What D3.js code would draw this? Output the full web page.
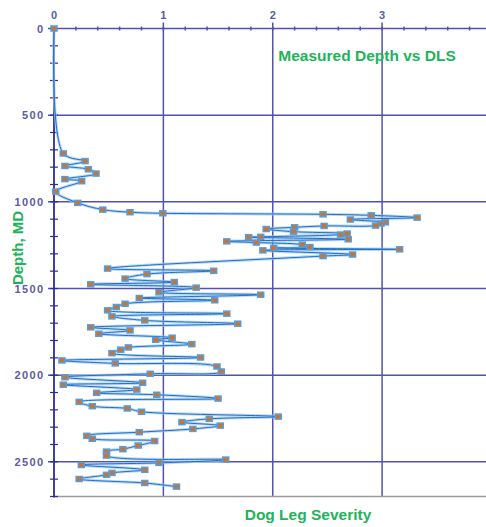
<!DOCTYPE html>
<html>
<head>
<meta charset="utf-8">
<script src="https://cdnjs.cloudflare.com/ajax/libs/d3/7.8.5/d3.min.js"></script>
<style>
  body { margin: 0; background: #fff; }
  svg { display: block; }
  .tick-label { font-family: "Liberation Sans", Arial, sans-serif; font-size: 11px; font-weight: bold; fill: #5b5ba6; letter-spacing: 1.4px; }
  .chart-text { font-family: "Liberation Sans", Arial, sans-serif; font-weight: bold; fill: #22b35a; }
</style>
</head>
<body>
<svg id="chart" width="486" height="527"></svg>
<script>
// measured depth (ft) and dog leg severity
var mdDepth = [0, 721, 765, 793, 812, 837, 869, 881, 941, 1006, 1045, 1060, 1066,
  1072, 1078, 1091, 1102, 1118, 1125, 1137, 1139, 1147, 1157, 1172, 1183, 1189,
  1202, 1204, 1216, 1228, 1235, 1247, 1261, 1266, 1274, 1280, 1304, 1313,
  1385, 1398, 1417, 1443, 1463, 1476, 1495, 1522, 1536, 1555, 1568, 1588, 1607,
  1626, 1645, 1661, 1684, 1703, 1724, 1742, 1761, 1784, 1796, 1821, 1840, 1853,
  1873, 1898, 1915, 1932, 1950, 1979, 1992, 2012, 2044, 2055, 2083, 2102, 2113,
  2135, 2154, 2179, 2192, 2211, 2239, 2252, 2271, 2291, 2310, 2329, 2350, 2367,
  2380, 2406, 2427, 2441, 2464, 2487, 2506, 2518, 2546, 2564, 2575, 2599, 2622, 2643];
var dlsValues = [0, 0.085, 0.284, 0.10, 0.314, 0.384, 0.10, 0.253, 0.016, 0.217, 0.446, 0.695, 0.995,
  2.46, 2.90, 3.32, 2.71, 3.03, 2.99, 2.94, 2.47, 2.20, 1.94, 2.19, 2.68, 2.62,
  1.89, 1.78, 2.69, 1.58, 1.85, 2.27, 2.34, 2.01, 3.16, 1.91, 2.73, 2.46,
  0.49, 1.46, 0.85, 0.65, 1.10, 0.336, 1.30, 0.96, 1.89, 0.78, 1.47, 0.65, 0.57,
  0.49, 1.58, 0.53, 0.83, 1.68, 0.336, 0.695, 0.41, 1.08, 0.93, 1.26, 0.68, 0.61,
  0.53, 1.34, 0.073, 0.56, 1.49, 1.53, 0.88, 0.10, 0.81, 0.085, 0.757, 0.39, 0.94,
  1.50, 0.23, 0.35, 0.67, 0.80, 2.05, 1.42, 1.17, 1.52, 1.27, 0.78, 0.30, 0.35,
  0.92, 0.77, 0.63, 0.48, 0.48, 1.57, 0.96, 0.25, 0.83, 0.53, 0.48, 0.23, 0.83, 1.12];

var xTicks = [0, 1, 2, 3];
var xMinorTicks = d3.range(0, 3.95, 0.2);
var yTicks = [0, 500, 1000, 1500, 2000, 2500];
var yMinorTicks = d3.range(0, 2701, 100);

var chartTitle = "Measured Depth vs DLS";
var xTitle = "Dog Leg Severity";
var yTitle = "Depth, MD";

var plotLeft = 54, plotTop = 28.5, plotRight = 486, plotBottom = 496.5;

var x = d3.scaleLinear().domain([0, 3.95]).range([plotLeft, plotRight]);
var y = d3.scaleLinear().domain([0, 2700]).range([plotTop, plotBottom]);

var svg = d3.select("#chart");

var data = mdDepth.map(function(d, i) { return {md: d, dls: dlsValues[i]}; });

// gridlines
svg.selectAll(".vgrid")
  .data(xTicks.filter(function(d) { return d > 0; }))
  .enter().append("line")
  .attr("x1", function(d) { return x(d); })
  .attr("x2", function(d) { return x(d); })
  .attr("y1", plotTop - 6)
  .attr("y2", plotBottom)
  .style("stroke", "#5252ad")
  .style("stroke-width", 1.5);

svg.selectAll(".hgrid")
  .data(yTicks)
  .enter().append("line")
  .attr("x1", plotLeft - 6)
  .attr("x2", plotRight)
  .attr("y1", function(d) { return y(d); })
  .attr("y2", function(d) { return y(d); })
  .style("stroke", "#5252ad")
  .style("stroke-width", 1.5);

// bottom frame
svg.append("line")
  .attr("x1", plotLeft).attr("x2", plotRight)
  .attr("y1", plotBottom).attr("y2", plotBottom)
  .style("stroke", "#9a9a9a")
  .style("stroke-width", 1.5);

// minor ticks
svg.selectAll(".xminor")
  .data(xMinorTicks)
  .enter().append("line")
  .attr("x1", function(d) { return x(d); })
  .attr("x2", function(d) { return x(d); })
  .attr("y1", plotTop - 2)
  .attr("y2", plotTop + 2)
  .style("stroke", "#5252ad")
  .style("stroke-width", 1.5);

svg.selectAll(".yminor")
  .data(yMinorTicks)
  .enter().append("line")
  .attr("x1", plotLeft - 4)
  .attr("x2", plotLeft + 4)
  .attr("y1", function(d) { return y(d); })
  .attr("y2", function(d) { return y(d); })
  .style("stroke", "#2d2d8f")
  .style("stroke-width", 1.2);

// left axis line
svg.append("line")
  .attr("x1", plotLeft).attr("x2", plotLeft)
  .attr("y1", plotTop).attr("y2", plotBottom + 1)
  .style("stroke", "#2d2d8f")
  .style("stroke-width", 1.8);

// tick labels
svg.selectAll(".xlab")
  .data(xTicks)
  .enter().append("text")
  .attr("class", "tick-label")
  .attr("x", function(d) { return x(d) + 0.7; })
  .attr("y", 19)
  .attr("text-anchor", "middle")
  .text(function(d) { return d; });

svg.selectAll(".ylab")
  .data(yTicks)
  .enter().append("text")
  .attr("class", "tick-label")
  .attr("x", 44.5)
  .attr("y", function(d) { return y(d) + 4; })
  .attr("text-anchor", "end")
  .text(function(d) { return d; });

// the series line, with a soft glow underneath
var line = d3.line()
  .x(function(d) { return x(d.dls); })
  .y(function(d) { return y(d.md); })
  .curve(d3.curveCatmullRom.alpha(0.5));

svg.append("path")
  .datum(data)
  .attr("d", line)
  .style("fill", "none")
  .style("stroke", "#9cc8ee")
  .style("stroke-width", 3)
  .style("stroke-opacity", 0.7);

svg.append("path")
  .datum(data)
  .attr("d", line)
  .style("fill", "none")
  .style("stroke", "#1f6fc4")
  .style("stroke-width", 1);

// markers
svg.selectAll(".pt")
  .data(data)
  .enter().append("rect")
  .attr("x", function(d) { return x(d.dls) - 3; })
  .attr("y", function(d) { return y(d.md) - 2.5; })
  .attr("width", 6)
  .attr("height", 5)
  .style("fill", "#c9742f")
  .style("stroke", "#5a9bd8")
  .style("stroke-width", 1.5);

// titles
svg.append("text")
  .attr("class", "chart-text")
  .attr("x", 367)
  .attr("y", 61)
  .attr("text-anchor", "middle")
  .style("font-size", "15.5px")
  .text(chartTitle);

svg.append("text")
  .attr("class", "chart-text")
  .attr("x", 308)
  .attr("y", 520)
  .attr("text-anchor", "middle")
  .style("font-size", "15.5px")
  .text(xTitle);

svg.append("text")
  .attr("class", "chart-text")
  .attr("transform", "translate(23,248) rotate(-90)")
  .attr("text-anchor", "middle")
  .style("font-size", "15px")
  .text(yTitle);
</script>
</body>
</html>
